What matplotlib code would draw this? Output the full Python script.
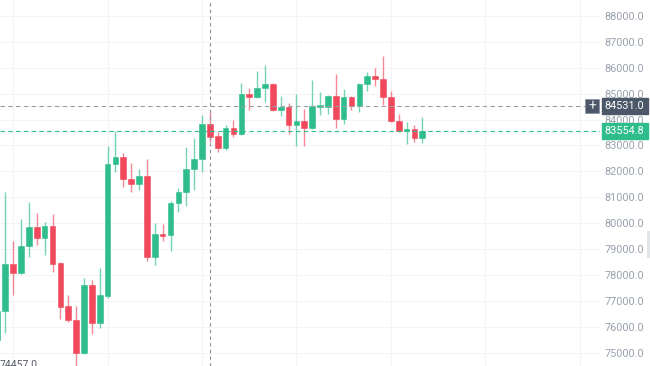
import matplotlib
matplotlib.use("Agg")
import matplotlib.pyplot as plt
import matplotlib.transforms as mtransforms
import numpy as np

plt.rcParams['font.family'] = ['Roboto', 'DejaVu Sans']

# OHLC data (one candle per period)
opens = [75490, 76610, 78425, 78077, 79120, 79853, 79429, 79892, 78463, 76803,
         76263, 74988, 77614, 76147, 77189, 82286, 82556, 81707, 81514, 81822,
         78695, 79583, 79545, 80780, 81205, 82093, 82479, 83830, 83367, 82903,
         83676, 83444, 84988, 84873, 85220, 85375, 84371, 84486, 83792, 83946,
         83676, 84486, 84486, 84911, 84023, 84873, 84525, 85375, 85683, 85568,
         84873, 83946, 83560, 83637, 83290]
highs = [76842, 81205, 79313, 80162, 80819, 80394, 80046, 80355, 78502, 77228,
         76803, 77884, 77807, 78270, 82981, 83550, 82710, 82324, 82093, 82479,
         80008, 79969, 80857, 81359, 82942, 83290, 84178, 84293, 83521, 83792,
         83985, 85413, 85220, 85876, 86108, 85413, 84911, 84641, 84988, 84409,
         85529, 85066, 84950, 85761, 85181, 84911, 85413, 85838, 85992, 86456,
         85104, 84216, 83907, 83792, 84100]
lows = [75027, 75761, 77228, 78050, 78695, 79158, 78772, 78116, 76301, 76185,
        74457, 74950, 75722, 75954, 77112, 81977, 81398, 81205, 81282, 78541,
        78386, 79313, 78927, 80432, 80664, 81282, 81977, 83135, 82749, 82826,
        83328, 83405, 84371, 84834, 84680, 84332, 84139, 83444, 82981, 82981,
        83637, 84178, 84216, 83676, 83830, 84371, 84293, 85104, 85297, 84564,
        83907, 83521, 83058, 83135, 83097]
closes = [76610, 78425, 78077, 79120, 79853, 79429, 79892, 78425, 76765, 76263,
          74988, 77614, 76147, 77228, 82286, 82556, 81707, 81514, 81822, 78695,
          79583, 79506, 80780, 81205, 82093, 82479, 83830, 83328, 82903, 83676,
          83444, 84988, 84873, 85220, 85375, 84371, 84486, 83792, 83946, 83676,
          84525, 84564, 84911, 84023, 84873, 84525, 85375, 85683, 85568, 84873,
          83946, 83560, 83637, 83290, 83554.8]

y_ticks = [75000, 76000, 77000, 78000, 79000, 80000, 81000, 82000,
           83000, 84000, 85000, 86000, 87000, 88000]
last_price = 83554.8
cross_price = 84531.0
cross_index = 27
lowest_label = "74457.0"

GREEN = '#2ebd8b'
RED = '#f0495b'
TEXT = '#9aa2ad'
DARK = '#4c5769'

fig = plt.figure(figsize=(6.5, 3.66), dpi=100)
ax = fig.add_axes([0, 0, 600 / 650, 1])

n = len(opens)
idx = np.arange(n)

# time grid every 12 candles
for gx in range(2, 80, 12):
    ax.axvline(gx, color='#f4f4f6', lw=0.8, zorder=0)
for t in y_ticks:
    ax.axhline(t, color='#f4f4f6', lw=0.8, zorder=0)

for i in idx:
    o, h, l, c = opens[i], highs[i], lows[i], closes[i]
    col = GREEN if c >= o else RED
    ax.vlines(i, l, h, color=col, lw=1.0, alpha=0.65, zorder=2)
    bottom = min(o, c)
    height = max(abs(c - o), 40)
    ax.bar(i, height, bottom=bottom, width=0.72, color=col,
           edgecolor=col, linewidth=0.4, zorder=3)

# last price line
ax.axhline(last_price, color=GREEN, lw=0.8, ls=(0, (4, 3)), zorder=4)
# crosshair
ax.axhline(cross_price, color='#9a9fac', lw=0.8, ls=(0, (4, 3)), zorder=4)
ax.axvline(cross_index, color='#8a8f99', lw=0.8, ls=(0, (3, 3)), zorder=4)

x0 = 0.327
ax.set_xlim(x0, x0 + 600 / 7.868)
ax.set_ylim(74486, 88618)

for s in ax.spines.values():
    s.set_visible(False)
ax.set_xticks([])
ax.yaxis.tick_right()
ax.set_yticks(y_ticks)
ax.set_yticklabels([f"{t:.1f}" for t in y_ticks])
ax.tick_params(axis='y', length=0, pad=3.5, labelsize=7.8, labelcolor=TEXT)

# price labels on the axis
ax.annotate(f"{cross_price:.1f}", xy=(1, cross_price), xycoords=('axes fraction', 'data'),
            xytext=(3.5, 0), textcoords='offset points', ha='left', va='center',
            fontsize=7.8, color='white', zorder=6,
            bbox=dict(boxstyle='square,pad=0.3', fc=DARK, ec=DARK))
ax.annotate(f"{last_price:.1f}", xy=(1, last_price), xycoords=('axes fraction', 'data'),
            xytext=(3.5, 0), textcoords='offset points', ha='left', va='center',
            fontsize=7.8, color='white', zorder=6,
            bbox=dict(boxstyle='square,pad=0.3', fc=GREEN, ec=GREEN))

# "+" button next to the crosshair label
blend = mtransforms.blended_transform_factory(ax.transAxes, ax.transData)
btn_h = 14 * (88618 - 74486) / 366
ax.add_patch(plt.Rectangle((585 / 600, cross_price - btn_h / 2), 14 / 600, btn_h,
                           transform=blend, fc=DARK, ec='#8d96a5', lw=0.6,
                           zorder=6, clip_on=False))
ax.text(592 / 600, cross_price, "+", transform=blend, ha='center', va='center',
        fontsize=10, color='#e8eaee', zorder=7, clip_on=False)

# lowest price marker, cut at the bottom edge
ax.text(0.0, 74530, lowest_label, transform=ax.get_yaxis_transform(),
        fontsize=7.5, color='#555b66', ha='left', va='center', clip_on=False)

# side panel toggle tab
fig.patches.append(plt.Rectangle((647 / 650, 1 - 258 / 366), 3 / 650, 27 / 366,
                                 transform=fig.transFigure, fc='#e2e4e8', ec='none'))

fig.savefig("out.png", dpi=100)
